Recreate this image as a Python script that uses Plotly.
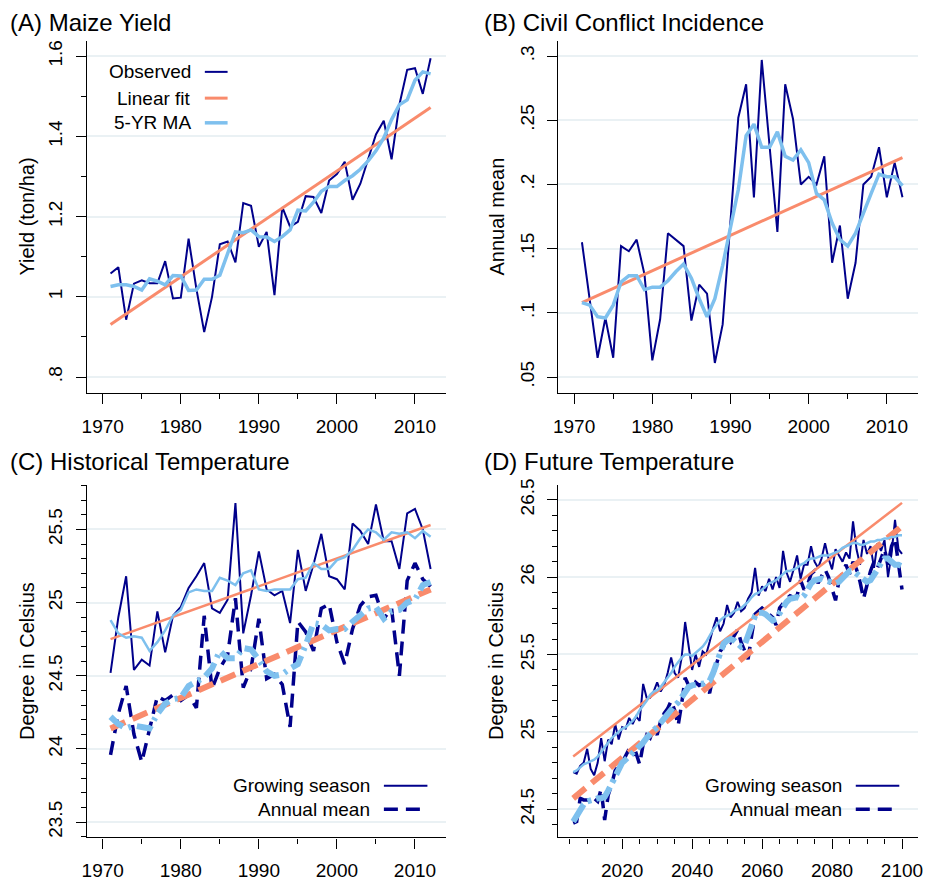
import plotly.graph_objects as go

# ---------------- data ----------------
years_hist = list(range(1971, 2013))
years_future = list(range(2006, 2101))

maize_observed = [1.058, 1.074, 0.943, 1.033, 1.041, 1.034, 1.034, 1.089, 0.996, 0.998,
                  1.145, 1.020, 0.912, 1.000, 1.131, 1.138, 1.086, 1.234, 1.227, 1.125,
                  1.162, 1.004, 1.224, 1.175, 1.187, 1.251, 1.249, 1.209, 1.290, 1.306,
                  1.337, 1.242, 1.282, 1.341, 1.405, 1.439, 1.343, 1.479, 1.566, 1.570,
                  1.506, 1.595]
maize_ma5 = [1.026, 1.030, 1.030, 1.026, 1.017, 1.045, 1.039, 1.030, 1.053, 1.052,
             1.016, 1.017, 1.044, 1.044, 1.054, 1.109, 1.162, 1.160, 1.167, 1.150,
             1.149, 1.138, 1.150, 1.167, 1.216, 1.214, 1.236, 1.263, 1.275, 1.275,
             1.290, 1.302, 1.318, 1.339, 1.364, 1.396, 1.442, 1.479, 1.491, 1.540,
             1.561, 1.556]
maize_fit_years = [1971, 2012]
maize_fit = [0.931, 1.472]

conflict_observed = [0.155, 0.110, 0.065, 0.096, 0.065, 0.152, 0.148, 0.157, 0.130, 0.063,
                     0.095, 0.162, 0.157, 0.152, 0.094, 0.122, 0.115, 0.061, 0.091, 0.170,
                     0.252, 0.278, 0.190, 0.297, 0.230, 0.163, 0.278, 0.251, 0.200, 0.206,
                     0.200, 0.222, 0.139, 0.168, 0.111, 0.139, 0.200, 0.206, 0.229, 0.190,
                     0.217, 0.190]
conflict_ma5 = [0.108, 0.106, 0.097, 0.096, 0.106, 0.124, 0.129, 0.129, 0.118, 0.120,
                0.120, 0.125, 0.132, 0.138, 0.127, 0.111, 0.097, 0.111, 0.137, 0.168,
                0.196, 0.238, 0.247, 0.229, 0.229, 0.241, 0.222, 0.219, 0.227, 0.217,
                0.193, 0.188, 0.170, 0.157, 0.152, 0.162, 0.178, 0.193, 0.208, 0.206,
                0.206, 0.199]
conflict_fit_years = [1971, 2012]
conflict_fit = [0.108, 0.221]

hist_growing = [24.52, 24.90, 25.18, 24.54, 24.61, 24.57, 24.94, 24.66, 24.91, 24.97,
                25.10, 25.18, 25.27, 24.96, 24.93, 25.02, 25.68, 24.79, 25.05, 25.35,
                25.09, 25.05, 25.08, 24.86, 25.36, 25.08, 25.26, 25.47, 25.18, 25.16,
                25.09, 25.54, 25.49, 25.40, 25.67, 25.42, 25.42, 25.23, 25.61, 25.64,
                25.50, 25.23]
hist_growing_ma5 = [24.88, 24.79, 24.76, 24.77, 24.76, 24.67, 24.73, 24.81, 24.91, 24.95,
                    25.07, 25.09, 25.08, 25.08, 25.17, 25.15, 25.12, 25.20, 25.22, 25.09,
                    25.08, 25.09, 25.09, 25.09, 25.16, 25.17, 25.27, 25.23, 25.23, 25.29,
                    25.31, 25.36, 25.44, 25.50, 25.48, 25.43, 25.48, 25.47, 25.48, 25.44,
                    25.49, 25.45]
hist_annual = [23.96, 24.24, 24.43, 24.10, 23.91, 24.13, 24.36, 24.33, 24.37, 24.33,
               24.37, 24.28, 24.91, 24.41, 24.55, 24.64, 25.03, 24.42, 24.55, 24.89,
               24.48, 24.51, 24.44, 24.15, 24.87, 24.80, 24.67, 24.96, 24.99, 24.73,
               24.58, 24.82, 24.98, 25.04, 25.05, 24.89, 24.96, 24.50, 25.15, 25.27,
               25.16, 25.11]
hist_annual_ma5 = [24.22, 24.17, 24.14, 24.16, 24.15, 24.14, 24.24, 24.31, 24.34, 24.35,
                   24.43, 24.46, 24.49, 24.55, 24.67, 24.62, 24.62, 24.69, 24.68, 24.61,
                   24.53, 24.50, 24.51, 24.55, 24.58, 24.71, 24.86, 24.85, 24.81, 24.82,
                   24.82, 24.87, 24.91, 24.96, 24.97, 24.89, 24.94, 24.95, 25.00, 25.02,
                   25.12, 25.14]
hist_fit_years = [1971, 2012]
hist_growing_fit = [24.75, 25.53]
hist_annual_fit = [24.14, 25.09]

fut_growing = [24.74, 24.73, 24.78, 24.80, 24.89, 24.76, 24.72, 24.80, 24.96, 24.81,
               24.95, 24.92, 25.05, 24.95, 25.03, 25.02, 25.09, 25.05, 25.10, 25.07,
               25.31, 25.22, 25.22, 25.26, 25.32, 25.26, 25.30, 25.38, 25.48, 25.38,
               25.35, 25.48, 25.71, 25.55, 25.40, 25.50, 25.42, 25.52, 25.50, 25.58,
               25.67, 25.74, 25.65, 25.70, 25.82, 25.74, 25.77, 25.84, 25.78, 25.80,
               25.86, 25.90, 26.06, 25.88, 25.94, 25.91, 25.99, 25.92, 26.00, 25.93,
               26.17, 26.03, 25.97, 26.05, 26.14, 25.99, 26.08, 26.08, 26.20, 26.10,
               26.06, 26.12, 26.22, 26.12, 26.05, 26.18, 26.14, 26.10, 26.16, 26.12,
               26.36, 26.18, 26.08, 26.24, 26.15, 26.20, 26.06, 26.22, 26.17, 26.24,
               26.00, 26.15, 26.37, 26.18, 26.15]
fut_growing_ma5 = [24.74, 24.75, 24.77, 24.79, 24.80, 24.81, 24.82, 24.84, 24.87, 24.90,
                   24.93, 24.96, 24.98, 25.00, 25.02, 25.03, 25.05, 25.07, 25.10, 25.14,
                   25.17, 25.20, 25.24, 25.26, 25.27, 25.29, 25.32, 25.35, 25.38, 25.42,
                   25.45, 25.48, 25.50, 25.50, 25.49, 25.51, 25.53, 25.55, 25.58, 25.62,
                   25.66, 25.69, 25.72, 25.74, 25.75, 25.76, 25.78, 25.79, 25.80, 25.82,
                   25.84, 25.87, 25.89, 25.90, 25.92, 25.94, 25.96, 25.97, 25.98, 26.00,
                   26.02, 26.04, 26.04, 26.05, 26.06, 26.08, 26.09, 26.11, 26.12, 26.12,
                   26.13, 26.14, 26.14, 26.14, 26.15, 26.16, 26.17, 26.19, 26.20, 26.21,
                   26.22, 26.22, 26.21, 26.21, 26.22, 26.23, 26.23, 26.24, 26.24, 26.25,
                   26.25, 26.26, 26.26, 26.27, 26.27]
fut_annual = [24.41, 24.42, 24.57, 24.56, 24.56, 24.55, 24.57, 24.55, 24.63, 24.43,
              24.59, 24.66, 24.75, 24.78, 24.80, 24.84, 24.89, 24.85, 24.86, 24.79,
              24.92, 24.98, 24.96, 25.02, 24.98, 25.07, 25.12, 25.15, 25.20, 25.14,
              25.04, 25.18, 25.35, 25.30, 25.27, 25.32, 25.30, 25.31, 25.29, 25.25,
              25.36, 25.44, 25.52, 25.55, 25.61, 25.58, 25.62, 25.66, 25.58, 25.52,
              25.47, 25.62, 25.76, 25.78, 25.80, 25.78, 25.76, 25.74, 25.69, 25.80,
              25.83, 25.86, 25.88, 25.87, 25.88, 25.98, 25.92, 25.95, 26.02, 26.04,
              25.96, 26.00, 26.05, 26.00, 25.92, 25.85, 25.98, 26.03, 26.08, 26.02,
              26.10, 26.05, 25.97, 25.86, 25.95, 26.04, 26.10, 26.06, 26.12, 26.18,
              26.08, 26.20, 26.25, 26.10, 25.92]
fut_annual_ma5 = [24.42, 24.46, 24.50, 24.53, 24.55, 24.56, 24.57, 24.57, 24.57, 24.58,
                  24.62, 24.67, 24.71, 24.76, 24.80, 24.82, 24.84, 24.86, 24.88, 24.90,
                  24.93, 24.96, 24.99, 25.01, 25.03, 25.06, 25.09, 25.12, 25.15, 25.17,
                  25.19, 25.22, 25.26, 25.29, 25.30, 25.31, 25.31, 25.31, 25.32, 25.33,
                  25.38, 25.45, 25.52, 25.57, 25.59, 25.60, 25.59, 25.57, 25.55, 25.56,
                  25.62, 25.69, 25.75, 25.77, 25.77, 25.76, 25.74, 25.72, 25.73, 25.77,
                  25.81, 25.84, 25.86, 25.87, 25.87, 25.86, 25.88, 25.92, 25.96, 25.98,
                  25.99, 25.99, 25.98, 25.97, 25.96, 25.96, 25.97, 25.99, 26.02, 26.04,
                  26.04, 26.02, 26.00, 25.98, 25.97, 25.98, 26.01, 26.05, 26.09, 26.12,
                  26.12, 26.10, 26.08, 26.08, 26.07]
fut_fit_years = [2006, 2100]
fut_growing_fit = [24.84, 26.48]
fut_annual_fit = [24.57, 26.33]

# tick labels
hist_year_ticks = [1970, 1980, 1990, 2000, 2010]
fut_year_ticks = [2020, 2040, 2060, 2080, 2100]
maize_ticks = [0.8, 1.0, 1.2, 1.4, 1.6]
maize_ticktext = [".8", "1", "1.2", "1.4", "1.6"]
conflict_ticks = [0.05, 0.10, 0.15, 0.20, 0.25, 0.30]
conflict_ticktext = [".05", ".1", ".15", ".2", ".25", ".3"]
hist_temp_ticks = [23.5, 24.0, 24.5, 25.0, 25.5]
hist_temp_ticktext = ["23.5", "24", "24.5", "25", "25.5"]
fut_temp_ticks = [24.5, 25.0, 25.5, 26.0, 26.5]
fut_temp_ticktext = ["24.5", "25", "25.5", "26", "26.5"]

# ---------------- style ----------------
W, H = 932, 881
FONT = "Liberation Sans, Arial, Helvetica, sans-serif"
NAVY = "#00008B"
SALMON = "#F98B6C"
SKY = "#7EC0EE"
GRID = "#EAF1F4"


def fx(p):
    return p / W


def fy(p):
    return 1 - p / H


fig = go.Figure()


def add(x, y, n, color, width, dash="solid"):
    sfx = "" if n == 1 else str(n)
    fig.add_trace(go.Scatter(x=x, y=y, xaxis="x" + sfx, yaxis="y" + sfx, mode="lines",
                             line=dict(color=color, width=width, dash=dash),
                             showlegend=False, hoverinfo="skip"))


# Panel A
add(years_hist, maize_observed, 1, NAVY, 2)
add(maize_fit_years, maize_fit, 1, SALMON, 3)
add(years_hist, maize_ma5, 1, SKY, 3.5)
# Panel B
add(years_hist, conflict_observed, 2, NAVY, 2)
add(conflict_fit_years, conflict_fit, 2, SALMON, 3)
add(years_hist, conflict_ma5, 2, SKY, 3.5)
# Panel C
ANNUAL_DASH = "14px,8px"
FIT_DASH = "16px,8px"
MA_DASH = "16px,6px,3px,6px"
add(years_hist, hist_growing, 3, NAVY, 2)
add(years_hist, hist_annual, 3, NAVY, 3.5, ANNUAL_DASH)
add(hist_fit_years, hist_growing_fit, 3, SALMON, 2.5)
add(hist_fit_years, hist_annual_fit, 3, SALMON, 6, FIT_DASH)
add(years_hist, hist_growing_ma5, 3, SKY, 2.5)
add(years_hist, hist_annual_ma5, 3, SKY, 6, MA_DASH)
# Panel D
add(years_future, fut_growing, 4, NAVY, 2)
add(years_future, fut_annual, 4, NAVY, 3.5, ANNUAL_DASH)
add(fut_fit_years, fut_growing_fit, 4, SALMON, 2.5)
add(fut_fit_years, fut_annual_fit, 4, SALMON, 6, FIT_DASH)
add(years_future, fut_growing_ma5, 4, SKY, 2.5)
add(years_future, fut_annual_ma5, 4, SKY, 6, "20px,5px,4px,5px")

tickfont = dict(family=FONT, size=19, color="black")
base = dict(showline=True, linecolor="black", linewidth=1.3, ticks="outside", ticklen=10,
            tickwidth=1.3, tickcolor="black", zeroline=False, tickfont=tickfont,
            mirror=False, ticklabelstandoff=6)

xdom_left = [fx(83), fx(446)]
xdom_right = [fx(559.5), fx(923)]
ydom_top = [fy(392), fy(35)]
ydom_bot = [fy(842), fy(485)]


def xax(domain, anchor, rng, tickvals, minor_tick0):
    d = dict(base)
    d.update(domain=domain, anchor=anchor, range=rng, tickmode="array", tickvals=tickvals,
             ticktext=[str(v) for v in tickvals], showgrid=False,
             minor=dict(ticks="outside", ticklen=5, tickwidth=1.3, tickcolor="black",
                        dtick=5, tick0=minor_tick0, showgrid=False))
    return d


def yax(domain, anchor, rng, tickvals, ticktext, minor=None):
    d = dict(base)
    d.update(domain=domain, anchor=anchor, range=rng, tickmode="array", tickvals=tickvals,
             ticktext=ticktext, tickangle=-90, showgrid=True, gridcolor=GRID, gridwidth=1.6)
    if minor is not None:
        d["minor"] = minor
    return d


minor_a = dict(ticks="outside", ticklen=5, tickwidth=1.3, tickcolor="black",
               tickvals=[0.9, 1.1, 1.3, 1.5], showgrid=False)
minor_temp = dict(ticks="outside", ticklen=5, tickwidth=1.3, tickcolor="black",
                  dtick=0.1, tick0=23.0, showgrid=False)

fig.update_layout(
    width=W, height=H, margin=dict(l=0, r=0, t=0, b=0),
    paper_bgcolor="white", plot_bgcolor="white",
    font=dict(family=FONT, color="black"),
    xaxis=xax(xdom_left, "y", [1968, 2014], hist_year_ticks, 1970),
    yaxis=yax(ydom_top, "x", [0.76, 1.639], maize_ticks, maize_ticktext, minor_a),
    xaxis2=xax(xdom_right, "y2", [1968, 2014], hist_year_ticks, 1970),
    yaxis2=yax(ydom_top, "x2", [0.0375, 0.3121], conflict_ticks, conflict_ticktext),
    xaxis3=xax(xdom_left, "y3", [1968, 2014], hist_year_ticks, 1970),
    yaxis3=yax(ydom_bot, "x3", [23.395, 25.804], hist_temp_ticks, hist_temp_ticktext, minor_temp),
    xaxis4=xax(xdom_right, "y4", [2001.8, 2104.6], fut_year_ticks, 2000),
    yaxis4=yax(ydom_bot, "x4", [24.317, 26.596], fut_temp_ticks, fut_temp_ticktext, minor_temp),
)

ann = []
shapes = []


def text(x, y, s, size, xanchor="left", angle=0):
    ann.append(dict(x=fx(x), y=fy(y), xref="paper", yref="paper", text=s, showarrow=False,
                    xanchor=xanchor, yanchor="middle", textangle=angle,
                    font=dict(family=FONT, size=size, color="black")))


def legline(x0, x1, y, color, width, dash="solid"):
    shapes.append(dict(type="line", xref="paper", yref="paper", x0=fx(x0), x1=fx(x1),
                       y0=fy(y), y1=fy(y), line=dict(color=color, width=width, dash=dash)))


# panel titles
text(3, 17, "(A) Maize Yield", 24)
text(482, 17, "(B) Civil Conflict Incidence", 24)
text(3, 461, "(C) Historical Temperature", 24)
text(482, 461, "(D) Future Temperature", 24)

# axis titles
text(22, 213.5, "Yield (ton/ha)", 20, "center", -90)
text(497, 213.5, "Annual mean", 20, "center", -90)
text(22, 663.5, "Degree in Celsius", 20, "center", -90)
text(497, 663.5, "Degree in Celsius", 20, "center", -90)

# legend A
for yy, lab, col, w in [(66.7, "Observed", NAVY, 2), (93.3, "Linear fit", SALMON, 3),
                        (118.3, "5-YR MA", SKY, 3.5)]:
    text(190, yy, lab, 19, "right")
    legline(202, 225, yy, col, w)

# legend C and D
for (xr, l0, l1) in [(371, 383, 427), (848, 860, 904)]:
    text(xr, 789.5, "Growing season", 19, "right")
    legline(l0, l1, 789.5, NAVY, 2)
    text(xr, 813.3, "Annual mean", 19, "right")
    legline(l0, l1, 813.3, NAVY, 3.5, ANNUAL_DASH)

fig.update_layout(annotations=ann, shapes=shapes)

fig.write_html("out.html")
